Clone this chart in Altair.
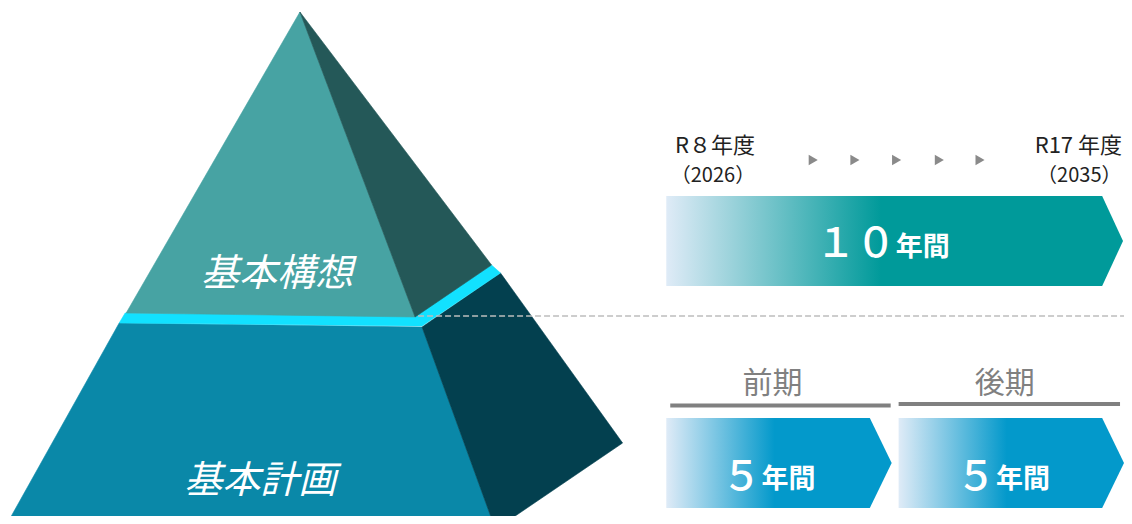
import altair as alt
import pandas as pd

# ---- frame (reference pixel grid; page starts after the 8px margin) ----
X_DOMAIN = [8, 1132]
Y_DOMAIN = [8, 516]

# ---- pyramid faces: x breakpoints with upper / lower edges ----
base_front_x = [8, 120, 425, 497]
base_front_top = [522, 323, 327, 524]
base_front_bot = [522, 522.5, 523.8, 524]

base_side_x = [425, 497, 504, 507, 627]
base_side_top = [327, 277.8, 273, 277.1, 443]
base_side_bot = [327, 524, 524, 524, 443]

band_x = [120, 126, 418, 425, 495, 504]
band_top = [323, 313, 316, 311.4, 265, 273]
band_bot = [323, 323.1, 325.9, 326, 279, 273]

top_front_x = [127, 302, 418]
top_front_top = [313, 12, 317]
top_front_bot = [313, 315.4, 317]

top_side_x = [302, 418, 495]
top_side_top = [12, 164, 265]
top_side_bot = [12, 317, 265]

face_ids = ["base_front", "base_side", "band", "top_front", "top_side"]
face_colors = ["#0a88a8", "#03404f", "#12e1ff", "#47a3a3", "#245858"]

# ---- period arrows ----
arrow10_x = [671, 1110, 1131]
arrow10_top = [196, 196, 241]
arrow10_bot = [286, 286, 241]

arrow5_ids = ["前期", "前期", "前期", "後期", "後期", "後期"]
arrow5_x = [671, 876, 898, 905, 1110, 1132]
arrow5_top = [418, 418, 463, 418, 418, 463]
arrow5_bot = [508, 508, 463, 508, 508, 463]

# ---- labels ----
pyr_labels = ["基本構想", "基本計画"]
pyr_x = [279, 262]
pyr_y = [286, 493]

year_labels = ["R８年度", "R17 年度"]
year_x = [720, 1086]
year_y = [153, 153]
year_sub = ["（2026）", "（2035）"]
year_sub_x = [718, 1087]
year_sub_y = [182, 182]

step_x = [819, 861, 903, 946, 987]
step_y = [160, 160, 160, 160, 160]

phase_labels = ["前期", "後期"]
phase_x = [778, 1012]
phase_y = [393, 393]
phase_rule_x = [675, 905]
phase_rule_x2 = [897, 1128]
phase_rule_y = [405.5, 404]

num_labels = ["１０", "５", "５"]
num_x = [902, 767, 1003]
num_y = [257, 490, 490]
unit_labels = ["年間", "年間", "年間"]
unit_x = [902, 767, 1003]
unit_y = [256, 488, 488]

divider_x = [421]
divider_x2 = [1132]
divider_y = [316]

FONT = "Noto Sans CJK JP"

xs = alt.Scale(domain=X_DOMAIN, nice=False, zero=False)
ys = alt.Scale(domain=Y_DOMAIN, reverse=True, nice=False, zero=False)


def X(f):
    return alt.X(f, type="quantitative", scale=xs, axis=None)


def Y(f):
    return alt.Y(f, type="quantitative", scale=ys, axis=None, stack=None)


def face_df(name, xv, tv, bv):
    return pd.DataFrame({"id": [name] * len(xv), "x": xv, "top": tv, "bot": bv})


face_scale = alt.Scale(domain=face_ids, range=face_colors)


def face_layer(df):
    return alt.Chart(df).mark_area(orient="vertical", strokeWidth=0.6, interpolate="linear", clip=True).encode(
        x=X("x"), y=Y("top"), y2="bot",
        detail="id:N",
        color=alt.Color("id:N", scale=face_scale, legend=None),
        stroke=alt.Stroke("id:N", scale=face_scale, legend=None),
    )


base_df = pd.concat([face_df("base_front", base_front_x, base_front_top, base_front_bot),
                     face_df("base_side", base_side_x, base_side_top, base_side_bot)])
band_df = face_df("band", band_x, band_top, band_bot)
top_df = pd.concat([face_df("top_front", top_front_x, top_front_top, top_front_bot),
                    face_df("top_side", top_side_x, top_side_top, top_side_bot)])

base_layer = face_layer(base_df)
band_layer = face_layer(band_df)
top_layer = face_layer(top_df)

divider = alt.Chart(pd.DataFrame({"x": divider_x, "x2": divider_x2, "y": divider_y})).mark_rule(
    color="#bdbdbd", strokeWidth=1.6, strokeDash=[6, 3]
).encode(x=X("x"), x2="x2", y=Y("y"))

grad10 = alt.Gradient(gradient="linear", x1=0, x2=1, y1=0, y2=0,
                      stops=[alt.GradientStop(color="#dfebf7", offset=0),
                             alt.GradientStop(color="#009a9a", offset=0.47),
                             alt.GradientStop(color="#009a9a", offset=1)])
grad5 = alt.Gradient(gradient="linear", x1=0, x2=1, y1=0, y2=0,
                     stops=[alt.GradientStop(color="#dfebf7", offset=0),
                            alt.GradientStop(color="#0399cb", offset=0.48),
                            alt.GradientStop(color="#0399cb", offset=1)])

arrow10 = alt.Chart(pd.DataFrame({"id": ["10"] * 3, "x": arrow10_x, "top": arrow10_top, "bot": arrow10_bot})).mark_area(
    orient="vertical", color=grad10, interpolate="linear"
).encode(x=X("x"), y=Y("top"), y2="bot", detail="id:N")

arrow5 = alt.Chart(pd.DataFrame({"id": arrow5_ids, "x": arrow5_x, "top": arrow5_top, "bot": arrow5_bot})).mark_area(
    orient="vertical", color=grad5, interpolate="linear"
).encode(x=X("x"), y=Y("top"), y2="bot", detail="id:N")

phase_rules = alt.Chart(pd.DataFrame({"x": phase_rule_x, "x2": phase_rule_x2, "y": phase_rule_y})).mark_rule(
    color="#808080", strokeWidth=4
).encode(x=X("x"), x2="x2", y=Y("y"))

steps = alt.Chart(pd.DataFrame({"x": step_x, "y": step_y})).mark_point(
    shape="triangle-right", filled=True, size=110, color="#8a8a8a", opacity=1
).encode(x=X("x"), y=Y("y"))


def text_layer(labels, xv, yv, **kw):
    df = pd.DataFrame({"t": labels, "x": xv, "y": yv})
    return alt.Chart(df).mark_text(font=FONT, baseline="alphabetic", **kw).encode(
        x=X("x"), y=Y("y"), text="t:N")


pyr_text = text_layer(pyr_labels, pyr_x, pyr_y, fontSize=38, fontStyle="italic", color="white", align="center")
year_text = text_layer(year_labels, year_x, year_y, fontSize=22, color="#222222", align="center")
year_sub_text = text_layer(year_sub, year_sub_x, year_sub_y, fontSize=20, color="#222222", align="center")
phase_text = text_layer(phase_labels, phase_x, phase_y, fontSize=30, color="#808080", align="center")
num_text = text_layer(num_labels, num_x, num_y, fontSize=40, fontWeight=500, color="white", align="right")
unit_text = text_layer(unit_labels, unit_x, unit_y, fontSize=27, fontWeight="bold", color="white", align="left")

chart = alt.layer(
    base_layer, band_layer, top_layer, divider,
    arrow10, arrow5, phase_rules, steps,
    pyr_text, year_text, year_sub_text, phase_text, num_text, unit_text,
).properties(
    width=1116, height=508, padding=0,
    autosize=alt.AutoSizeParams(type="none"),
    background="white",
).configure_view(stroke=None)

chart.save("out.html", embed_options={"renderer": "svg", "actions": False})
